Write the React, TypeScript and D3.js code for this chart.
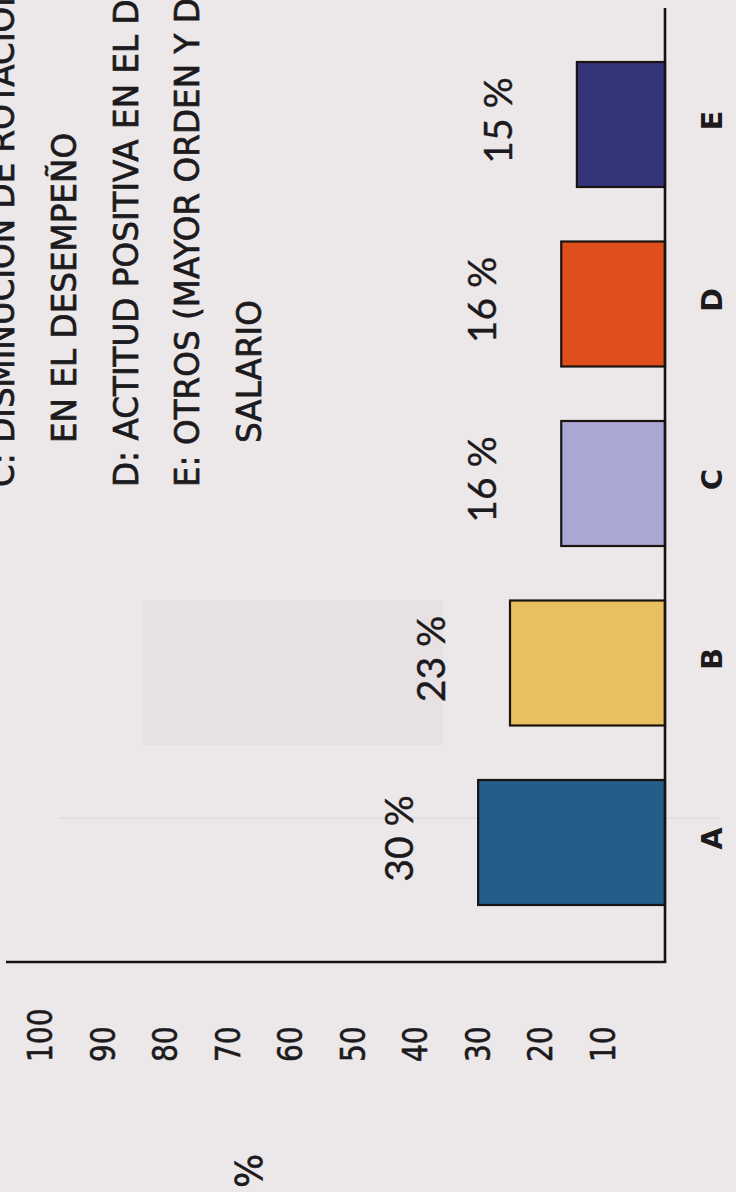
import React from "react";
import * as d3 from "d3";

const categories = ["A", "B", "C", "D", "E"];
const barValues = [29.9, 24.8, 16.6, 16.6, 14.1];
const valueLabels = ["30 %", "23 %", "16 %", "16 %", "15 %"];
const barColors = ["#245d89", "#e8c05f", "#aba7d5", "#df4f1e", "#34347b"];
const tickValues = [100, 90, 80, 70, 60, 50, 40, 30, 20, 10];
const axisTitle = "%";
const legendLines = [
  { text: "C: DISMINUCIÓN DE ROTACIÓN DE PERSONAL", hanging: false },
  { text: "EN EL DESEMPEÑO", hanging: true },
  { text: "D: ACTITUD POSITIVA EN EL DESEMPEÑO", hanging: false },
  { text: "E: OTROS (MAYOR ORDEN Y DISCIPLINA, MEJOR", hanging: false },
  { text: "SALARIO", hanging: true },
];

const W = 736;
const H = 1192;
const INK = "#1c1a1c";

export default function App() {
  const x = d3.scaleLinear().domain([0, 100]).range([665, 40]);
  const y = d3
    .scaleBand<string>()
    .domain([...categories].reverse())
    .range([62, 905])
    .paddingInner(0.3036)
    .paddingOuter(0);
  const bw = y.bandwidth();
  const rot = (px: number, py: number, sx = 1) =>
    `translate(${px},${py}) rotate(-90) scale(${sx},1)`;

  return (
    <div style={{ position: "absolute", left: 0, top: 0, width: W, height: H }}>
      <svg width={W} height={H} style={{ display: "block" }}>
        <rect x={0} y={0} width={W} height={H} fill="#ece8e9" />
        {/* faint show-through from the reverse of the page */}
        <rect x={143} y={600} width={300} height={145} fill="#e7e1e3" />
        <line x1={60} x2={720} y1={818} y2={818} stroke="#e3dee0" strokeWidth={2} />

        {/* legend */}
        {legendLines.map((l, i) => (
          <text
            key={i}
            transform={rot(14 + 61.75 * i, l.hanging ? 443 : 487, 0.96)}
            fontFamily="'DejaVu Sans', Verdana, sans-serif"
            fontSize={34}
            fill={INK}
            stroke={INK}
            strokeWidth={0.7}
          >
            {l.text}
          </text>
        ))}

        {/* bars */}
        {categories.map((c, i) => (
          <rect
            key={c}
            x={x(barValues[i])}
            y={y(c)!}
            width={x(0) - x(barValues[i])}
            height={bw}
            fill={barColors[i]}
            stroke="#1a1410"
            strokeWidth={2.2}
          />
        ))}

        {/* value labels */}
        {categories.map((c, i) => (
          <text
            key={c}
            transform={rot(x(barValues[i]) - 65, y(c)! + bw / 2 - 4)}
            textAnchor="middle"
            fontFamily="Lato, 'Open Sans', sans-serif"
            fontSize={39}
            fill={INK}
            stroke={INK}
            strokeWidth={0.4}
          >
            {valueLabels[i]}
          </text>
        ))}

        {/* axes */}
        <line x1={x(0)} x2={x(0)} y1={8} y2={962} stroke="#161212" strokeWidth={2.6} />
        <line x1={6} x2={x(0) + 1.3} y1={962} y2={962} stroke="#161212" strokeWidth={2.6} />

        {/* category labels */}
        {categories.map((c) => (
          <text
            key={c}
            transform={rot(722, y(c)! + bw / 2 - 4)}
            textAnchor="middle"
            fontFamily="'DejaVu Sans', Verdana, sans-serif"
            fontWeight="bold"
            fontSize={29}
            fill={INK}
          >
            {c}
          </text>
        ))}

        {/* value tick labels */}
        {tickValues.map((t) => (
          <text
            key={t}
            transform={rot(x(t) + 12, 1062, 0.85)}
            fontFamily="'DejaVu Sans', Verdana, sans-serif"
            fontSize={33}
            fill={INK}
            stroke={INK}
            strokeWidth={0.6}
          >
            {t}
          </text>
        ))}
        <text
          transform={rot(262, 1188, 0.95)}
          fontFamily="'DejaVu Sans', Verdana, sans-serif"
          fontSize={38}
          fill={INK}
          stroke={INK}
          strokeWidth={0.6}
        >
          {axisTitle}
        </text>
      </svg>
    </div>
  );
}
